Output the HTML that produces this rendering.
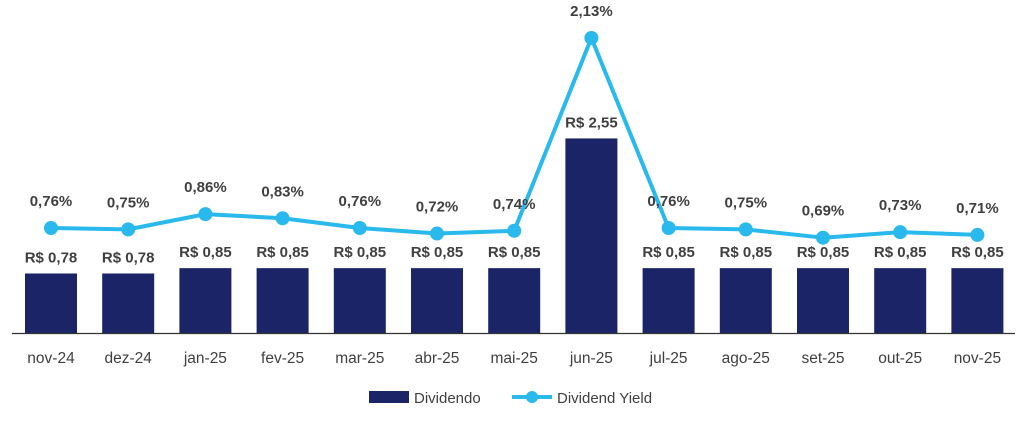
<!DOCTYPE html>
<html><head><meta charset="utf-8"><style>
body{margin:0;background:#fff}
svg text{font-family:"Liberation Sans",sans-serif;fill:#404040}
</style></head><body>
<svg width="1024" height="416" xmlns="http://www.w3.org/2000/svg">
<g id="bars" fill="#1b2466"></g>
<line x1="12" y1="333.5" x2="1015" y2="333.5" stroke="#333" stroke-width="1.2"/>
<g id="line"></g>
<g id="labels"></g>
<rect x="369" y="391" width="40" height="12" fill="#1b2466"/>
<text x="414" y="403" font-size="15">Dividendo</text>
<line x1="512" y1="397" x2="552" y2="397" stroke="#29b9ec" stroke-width="4"/>
<circle cx="532" cy="397" r="6" fill="#29b9ec"/>
<text x="557" y="403" font-size="15">Dividend Yield</text>
<script>
(function(){
var m=["nov-24","dez-24","jan-25","fev-25","mar-25","abr-25","mai-25","jun-25","jul-25","ago-25","set-25","out-25","nov-25"];
var d=[0.78,0.78,0.85,0.85,0.85,0.85,0.85,2.55,0.85,0.85,0.85,0.85,0.85];
var yy=[0.76,0.75,0.86,0.83,0.76,0.72,0.74,2.13,0.76,0.75,0.69,0.73,0.71];
var ns="http://www.w3.org/2000/svg";
function el(t,a,p,tx){var e=document.createElementNS(ns,t);for(var k in a)e.setAttribute(k,a[k]);if(tx)e.textContent=tx;document.getElementById(p).appendChild(e);}
var pts=[];
for(var i=0;i<13;i++){
 var cx=51+i*77.2, h=d[i]*76.3, bt=333-h;
 el("rect",{x:cx-26,y:bt,width:52,height:h},"bars");
 var py=333.4-138.7*yy[i]; pts.push(cx+","+py);
 el("text",{x:cx,y:bt-11,"font-size":15,"font-weight":"bold","text-anchor":"middle"},"labels","R$ "+d[i].toFixed(2).replace(".",","));
 el("text",{x:cx,y:py-22,"font-size":15,"font-weight":"bold","text-anchor":"middle"},"labels",yy[i].toFixed(2).replace(".",",")+"%");
 el("text",{x:cx,y:363,"font-size":15.5,"text-anchor":"middle"},"labels",m[i]);
}
el("polyline",{points:pts.join(" "),fill:"none",stroke:"#29b9ec","stroke-width":4,"stroke-linejoin":"round"},"line");
pts.forEach(function(p){var q=p.split(",");el("circle",{cx:q[0],cy:q[1],r:7,fill:"#29b9ec"},"line");});
})();
</script>
</svg>
</body></html>
